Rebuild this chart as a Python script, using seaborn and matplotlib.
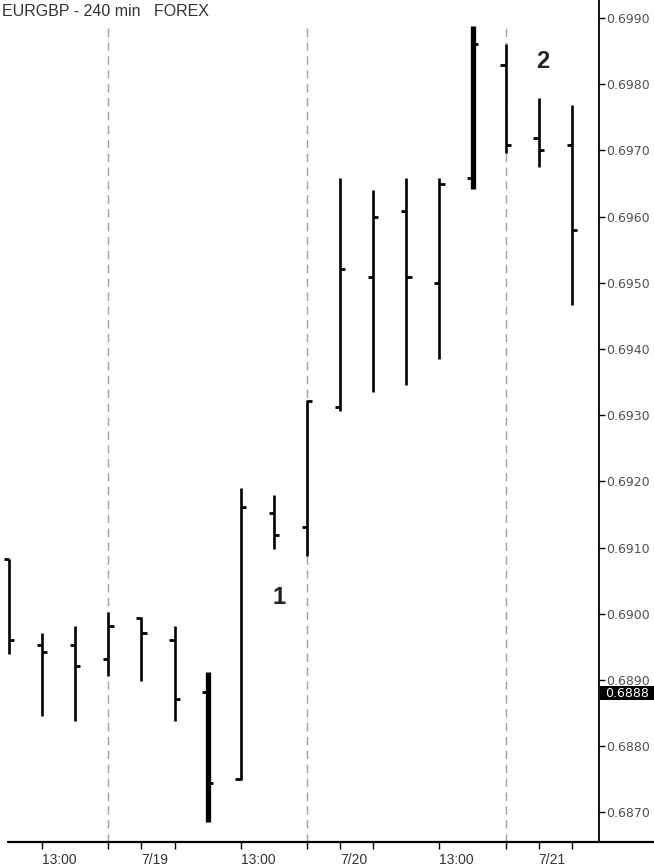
import numpy as np
import pandas as pd
import matplotlib
matplotlib.use("Agg")
import matplotlib.pyplot as plt
import matplotlib.transforms as mtransforms
from matplotlib.lines import Line2D
from matplotlib.patches import Rectangle
import seaborn as sns

# ---- data (EURGBP 240-min bars) ----
bar_index = list(range(18))
opens  = [0.69083, 0.68953, 0.68953, 0.68932, 0.68994, 0.68960, 0.68882, 0.68750, 0.69152,
          0.69131, 0.69312, 0.69509, 0.69608, 0.69500, 0.69658, 0.69829, 0.69719, 0.69708]
highs  = [0.69083, 0.68971, 0.68982, 0.69003, 0.68995, 0.68982, 0.68912, 0.69190, 0.69179,
          0.69323, 0.69658, 0.69640, 0.69658, 0.69658, 0.69888, 0.69861, 0.69779, 0.69769]
lows   = [0.68939, 0.68846, 0.68838, 0.68906, 0.68898, 0.68838, 0.68686, 0.68749, 0.69098,
          0.69087, 0.69306, 0.69335, 0.69346, 0.69385, 0.69642, 0.69696, 0.69675, 0.69467]
closes = [0.68960, 0.68942, 0.68921, 0.68982, 0.68971, 0.68871, 0.68744, 0.69161, 0.69119,
          0.69321, 0.69521, 0.69599, 0.69509, 0.69649, 0.69861, 0.69708, 0.69701, 0.69580]
heavy  = [0, 0, 0, 0, 0, 0, 1, 0, 0, 0, 0, 0, 0, 0, 1, 0, 0, 0]

x_tick_pos = [1, 3, 4, 5, 7, 9, 10, 11, 13, 15, 16, 17]
x_tick_labels = ["13:00", "", "7/19", "", "13:00", "", "7/20", "", "13:00", "", "7/21", ""]
session_breaks = [3, 9, 15]
y_ticks = [0.6870, 0.6880, 0.6890, 0.6900, 0.6910, 0.6920, 0.6930,
           0.6940, 0.6950, 0.6960, 0.6970, 0.6980, 0.6990]
last_price = 0.6888
title = "EURGBP - 240 min   FOREX"
notes = [("1", 8.15, 0.69025), ("2", 16.12, 0.69835)]

df = pd.DataFrame({"x": bar_index, "open": opens, "high": highs, "low": lows,
                   "close": closes, "heavy": heavy})

sns.set_theme(style="white")
plt.rcParams["font.family"] = ["DejaVu Sans"]

W, H = 654, 867
fig = plt.figure(figsize=(W / 100, H / 100), dpi=100)
fig.patch.set_facecolor("white")
ax = fig.add_axes([0, 25 / H, 599 / W, 842 / H])
ax.set_facecolor("white")

# session separators
for b in session_breaks:
    ax.axvline(b, ymin=0, ymax=1 - 28 / 842, color="#a0a0a0", lw=1,
               ls=(0, (6, 4)), zorder=1)

# OHLC bars
lw = np.where(df["heavy"] == 1, 3.8, 1.9)
ax.vlines(df["x"], df["low"], df["high"], colors="black", linewidths=lw,
          zorder=3, capstyle="butt")
tick = 0.16
ax.hlines(df["open"], df["x"] - tick, df["x"], colors="black", linewidths=2.0, zorder=3)
ax.hlines(df["close"], df["x"], df["x"] + tick, colors="black", linewidths=2.0, zorder=3)

ax.set_xlim(-0.27, 17.82)
ax.set_ylim(0.686553, 0.699272)

# axes styling
sns.despine(ax=ax, left=True, top=True, bottom=True, right=False)
ax.spines["right"].set_color("black")
ax.spines["right"].set_linewidth(1.3)

ax.yaxis.tick_right()
ax.set_yticks(y_ticks)
ax.set_yticklabels([f"{v:.4f}" for v in y_ticks])
ax.tick_params(axis="y", which="both", right=True, left=False, direction="out",
               length=4, width=1, color="black", pad=1, labelsize=9,
               labelcolor="#505050")

ax.set_xticks(x_tick_pos)
ax.set_xticklabels(x_tick_labels)
ax.tick_params(axis="x", which="both", bottom=True, direction="out", length=5,
               width=1, color="black", pad=3, labelsize=10, labelcolor="#333333")
for lab in ax.get_xticklabels():
    lab.set_horizontalalignment("left")
    lab.set_fontfamily("Liberation Sans")

ax.grid(False)

# full-width bottom axis line
fig.add_artist(Line2D([8 / W, 1.0], [25 / H, 25 / H], color="black", lw=1.6,
                      transform=fig.transFigure))

# title
ax.text(2 / 599, 1 - 11 / 842, title, transform=ax.transAxes, ha="left", va="center",
        fontsize=11.5, color="#333333", family="Liberation Sans")

# wave labels
for txt, xx, yy in notes:
    ax.text(xx, yy, txt, ha="center", va="center", fontsize=17, fontweight="bold",
            color="#222222", family="Liberation Sans", zorder=4)

# last price box
btr = mtransforms.blended_transform_factory(fig.transFigure, ax.transData)
fig.add_artist(Rectangle((600 / W, last_price - 0.000105), 54 / W, 0.00021,
                         transform=btr, facecolor="black", edgecolor="none", zorder=10))
fig.text(627 / W, 0, f"{last_price:.4f}", transform=btr, ha="center", va="center",
         fontsize=9, color="white", zorder=11)
for t in fig.texts:
    t.set_y(last_price)

fig.savefig("out.png", dpi=100, facecolor="white")
